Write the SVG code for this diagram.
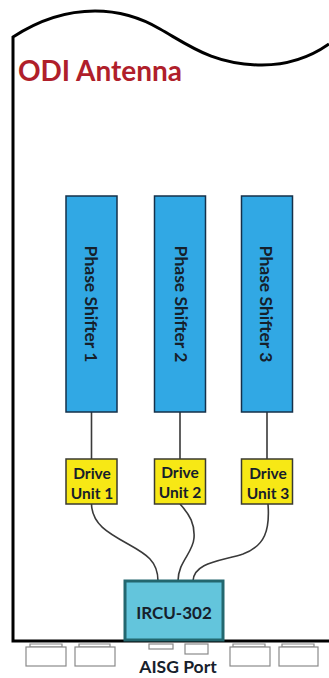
<svg xmlns="http://www.w3.org/2000/svg" width="329" height="678" viewBox="0 0 329 678">
<style>
text{font-family:Lato,"Open Sans",sans-serif;font-weight:700;fill:#16202b;text-anchor:middle}
.ps{fill:#31a8e4;stroke:#14304a;stroke-width:1.5}
.du{fill:#f7e815;stroke:#3a3a30;stroke-width:1.5}
.port{fill:#fff;stroke:#8a8a8a;stroke-width:1.2}
.ps-t{font-size:17.500px}
.du-t{font-size:15.500px}
.wire{fill:none;stroke:#3a3a3a;stroke-width:1.6}
</style>
<rect width="329" height="678" fill="#fff"/>
<g id="antenna">
<path d="M329 44C312 56 290 65 262 65C214 65 190 46 160 29C138 16 118 11 95 11C62 11 36 22 13 37V641H329" fill="none" stroke="#000" stroke-width="3"/>
<text x="100" y="81" style="font-size:28px;fill:#b01f2b">ODI Antenna</text>
</g>
<g id="connectors">
<path class="wire" d="M91.500 412V459M180 412V459M267 412V459"/>
<path class="wire" d="M91.500 504C92 524 108 533 128 544C146 554 158 561 158 581"/>
<path class="wire" d="M180 504C190 515 195 524 194 538C193 553 178 562 178 581"/>
<path class="wire" d="M268 504C270 530 265 546 243 554C222 561 194 562 193 581"/>
</g>
<g id="phase-shifter-1"><rect class="ps" x="66" y="196" width="51" height="216"/><text class="ps-t" transform="translate(84.500 304) rotate(90)">Phase Shifter 1</text></g>
<g id="phase-shifter-2"><rect class="ps" x="154.500" y="196" width="51" height="216"/><text class="ps-t" transform="translate(175 304) rotate(90)">Phase Shifter 2</text></g>
<g id="phase-shifter-3"><rect class="ps" x="241.500" y="196" width="51" height="216"/><text class="ps-t" transform="translate(260 304) rotate(90)">Phase Shifter 3</text></g>
<g id="drive-unit-1"><rect class="du" x="66" y="459" width="51" height="45"/><text class="du-t" x="92" y="479">Drive</text><text class="du-t" x="92" y="499">Unit 1</text></g>
<g id="drive-unit-2"><rect class="du" x="154.500" y="459" width="51" height="45"/><text class="du-t" x="180" y="478">Drive</text><text class="du-t" x="180" y="498">Unit 2</text></g>
<g id="drive-unit-3"><rect class="du" x="241.500" y="459" width="51" height="45"/><text class="du-t" x="268" y="479">Drive</text><text class="du-t" x="268" y="499">Unit 3</text></g>
<g id="ircu-302"><rect x="125" y="581" width="98" height="59" fill="#63c5dc" stroke="#23676f" stroke-width="3"/><text x="174" y="619" style="font-size:17px">IRCU-302</text></g>
<g id="ports">
<path class="port" d="M30 644H62V647H30ZM79 644H110V647H79ZM233 644H265V647H233ZM282 644H314V647H282Z"/>
<rect class="port" x="26" y="647" width="40" height="19"/>
<rect class="port" x="75" y="647" width="40" height="19"/>
<rect class="port" x="149" y="644" width="24" height="5"/>
<rect class="port" x="185" y="644" width="23" height="10"/>
<rect class="port" x="230" y="647" width="40" height="19"/>
<rect class="port" x="279" y="647" width="39" height="19"/>
</g>
<g id="aisg-port"><text x="178" y="673" style="font-size:17.500px">AISG Port</text></g>
</svg>
